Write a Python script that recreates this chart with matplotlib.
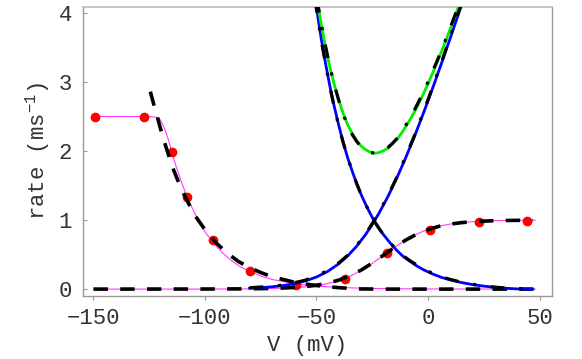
import matplotlib
matplotlib.use("Agg")
import matplotlib.pyplot as plt

plt.rcParams['font.family'] = ['Liberation Mono', 'DejaVu Sans']
plt.rcParams['mathtext.fontset'] = 'custom'
plt.rcParams['mathtext.rm'] = 'Liberation Mono'
plt.rcParams['mathtext.it'] = 'Liberation Mono'
plt.rcParams['axes.unicode_minus'] = True

# ---- data ----
dots_v = [-149.5, -127.5, -115, -108, -96.6, -79.6, -59.2, -37, -18.6, 0.9, 22.9, 44.5]
dots_r = [2.49, 2.49, 1.99, 1.33, 0.71, 0.26, 0.065, 0.14, 0.52, 0.86, 0.97, 0.99]

pinkA_v = [-150, -135, -125, -122, -121, -120, -119, -118, -117, -116, -115, -113, -110, -107,
           -104, -100, -96, -92, -88, -84, -80, -75, -70, -65, -60, -55, -50, -45, -40, -30,
           -20, -10, 0, 48]
pinkA_r = [2.50, 2.50, 2.50, 2.49, 2.48, 2.45, 2.39, 2.31, 2.22, 2.12, 2.00, 1.78, 1.50, 1.26,
           1.06, 0.83, 0.66, 0.52, 0.41, 0.32, 0.26, 0.19, 0.14, 0.11, 0.08, 0.06, 0.044, 0.033,
           0.024, 0.013, 0.007, 0.004, 0.002, 0.0]

pinkB_v = [-150, -100, -80, -70, -60, -55, -50, -45, -40, -35, -30, -25, -20, -15, -10, -5, 0,
           5, 10, 15, 20, 25, 30, 35, 40, 48]
pinkB_r = [0.0, 0.0005, 0.003, 0.008, 0.021, 0.033, 0.052, 0.081, 0.124, 0.186, 0.269, 0.372,
           0.488, 0.606, 0.712, 0.799, 0.865, 0.912, 0.943, 0.964, 0.977, 0.986, 0.991, 0.994,
           0.997, 0.998]

fit1_v = [-124.5, -123, -122, -120, -118, -116, -114, -112, -110, -105, -100, -95, -90, -85,
          -80, -75, -70, -65, -60, -55, -50, -45, -40, -35, -30, -20, 47]
fit1_r = [2.86, 2.68, 2.57, 2.33, 2.11, 1.91, 1.72, 1.56, 1.41, 1.09, 0.86, 0.67, 0.52, 0.40,
          0.31, 0.24, 0.18, 0.14, 0.10, 0.074, 0.052, 0.034, 0.021, 0.010, 0.002, 0.0, 0.0]

fit2_v = [-150, -100, -80, -70, -60, -55, -50, -45, -40, -35, -30, -25, -20, -15, -10, -5, 0,
          5, 10, 15, 20, 25, 30, 35, 40, 47]
fit2_r = [0.0, 0.001, 0.004, 0.009, 0.023, 0.036, 0.056, 0.086, 0.13, 0.193, 0.275, 0.377,
          0.49, 0.605, 0.71, 0.797, 0.862, 0.91, 0.942, 0.963, 0.976, 0.985, 0.99, 0.994,
          0.996, 0.998]

blue1_v = [-52, -50, -48, -46, -44, -42, -40, -38, -36, -34, -32, -30, -28, -26, -24, -22, -20,
           -17, -14, -11, -8, -5, -2, 2, 6, 10, 15, 20, 25, 30, 35, 40, 47]
blue1_r = [4.54, 4.07, 3.65, 3.28, 2.94, 2.64, 2.37, 2.12, 1.90, 1.71, 1.53, 1.37, 1.23, 1.10,
           0.98, 0.88, 0.79, 0.67, 0.56, 0.47, 0.40, 0.335, 0.28, 0.22, 0.17, 0.133, 0.095,
           0.065, 0.043, 0.026, 0.012, 0.0025, 0.0]

blue2_v = [-80, -75, -70, -65, -60, -55, -50, -45, -40, -36, -32, -28, -25, -22, -18, -14, -10,
           -6, -2, 2, 6, 10, 14, 16]
blue2_r = [0.013, 0.021, 0.033, 0.051, 0.078, 0.118, 0.175, 0.256, 0.367, 0.481, 0.621, 0.790,
           0.936, 1.098, 1.339, 1.608, 1.903, 2.218, 2.553, 2.904, 3.266, 3.639, 4.019, 4.211]

green_v = [-52, -50, -48, -46, -44, -42, -40, -38, -36, -34, -32, -30, -28, -26, -24, -22, -20,
           -18, -16, -14, -12, -10, -8, -6, -4, -2, 0, 2, 4, 6, 8, 10, 12, 14, 16]
green_r = [4.69, 4.245, 3.854, 3.518, 3.216, 2.959, 2.737, 2.541, 2.381, 2.258, 2.151, 2.072,
           2.02, 1.985, 1.968, 1.978, 2.005, 2.039, 2.10, 2.168, 2.253, 2.353, 2.458, 2.573,
           2.70, 2.833, 2.976, 3.124, 3.279, 3.438, 3.602, 3.772, 3.944, 4.12, 4.30]

fit3_v = [-52, -50, -48, -46, -44, -42, -40, -38, -36, -34, -32, -30, -28, -26, -24, -22, -20,
          -17, -14, -11, -8, -5, -2, 2, 6, 10, 15, 20, 25, 30, 35, 40, 47]
fit3_r = [4.50, 4.05, 3.63, 3.27, 2.93, 2.63, 2.36, 2.12, 1.90, 1.71, 1.53, 1.37, 1.23, 1.10,
          0.98, 0.88, 0.79, 0.67, 0.57, 0.48, 0.41, 0.35, 0.29, 0.23, 0.18, 0.14, 0.10, 0.07,
          0.045, 0.028, 0.015, 0.007, 0.0]

fit4_v = [-50, -48, -46, -44, -42, -40, -38, -36, -34, -32, -30, -28, -26, -24, -22, -20, -18,
          -16, -14, -12, -10, -8, -6, -4, -2, 0, 2, 4, 6, 8, 10, 12, 14, 16]
fit4_r = [4.25, 3.87, 3.53, 3.22, 2.96, 2.73, 2.53, 2.37, 2.24, 2.14, 2.06, 2.01, 1.98, 1.97,
          1.98, 2.01, 2.05, 2.11, 2.18, 2.27, 2.37, 2.48, 2.60, 2.73, 2.86, 3.00, 3.15, 3.30,
          3.46, 3.62, 3.79, 3.96, 4.14, 4.32]

fit5_v = [-80, -75, -70, -65, -60, -55, -50, -45, -40, -36, -32, -28, -25, -22, -18, -14, -10,
          -6, -2, 2, 6, 10, 14, 16]
fit5_r = [0.02, 0.03, 0.04, 0.06, 0.09, 0.13, 0.19, 0.27, 0.38, 0.49, 0.63, 0.80, 0.95, 1.11,
          1.35, 1.62, 1.92, 2.23, 2.57, 2.92, 3.28, 3.66, 4.04, 4.23]

xticks = [-150, -100, -50, 0, 50]
yticks = [0, 1, 2, 3, 4]

# ---- figure ----
fig = plt.figure(figsize=(5.82, 3.59), dpi=100)
ax = fig.add_axes([83/582, 63/359, 469/582, 289/359])

pink = '#ff3cff'
ax.plot(pinkA_v, pinkA_r, color=pink, lw=0.8, zorder=2)
ax.plot(pinkB_v, pinkB_r, color=pink, lw=0.8, zorder=2)
ax.plot(dots_v, dots_r, 'o', color='#ff0000', ms=7, mec='none', zorder=3)

dash = (0, (4, 3.4))
ax.plot(fit1_v, fit1_r, color='black', lw=2.6, ls=dash, zorder=4)
ax.plot(fit2_v, fit2_r, color='black', lw=2.6, ls=dash, zorder=4)

ax.plot(blue1_v, blue1_r, color='#0000ff', lw=2.0, zorder=5)
ax.plot(blue2_v, blue2_r, color='#0000ff', lw=2.0, zorder=5)
ax.plot(green_v, green_r, color='#00ee00', lw=2.0, zorder=5)

dashdot = (0, (4.3, 4.6, 1.0, 4.6))
for v, r in ((fit3_v, fit3_r), (fit4_v, fit4_r), (fit5_v, fit5_r)):
    ax.plot(v, r, color='black', lw=2.3, ls=dashdot, zorder=6)

ax.set_xlim(-154.7, 55.6)
ax.set_ylim(-0.10, 4.087)
ax.set_xticks(xticks)
ax.set_yticks(yticks)

for s in ('left', 'bottom', 'right'):
    ax.spines[s].set_color('#999999')
    ax.spines[s].set_linewidth(1.0)
ax.spines['top'].set_color('#bbbbbb')
ax.spines['top'].set_linewidth(1.2)

ax.tick_params(axis='y', direction='in', length=3, width=0.8, color='#999999',
               labelsize=16, labelcolor='#333333', pad=8)
ax.tick_params(axis='x', direction='out', length=3, width=0.8, color='#999999',
               labelsize=16, labelcolor='#333333', pad=6)

fig.text(38/582, 1 - 151/359, 'rate (ms$^{-1}$)', rotation=90, ha='center', va='center',
         fontsize=16, color='#333333')
fig.text(307/582, 1 - 346/359, 'V (mV)', ha='center', va='center', fontsize=16,
         color='#333333')

fig.savefig('out.png', dpi=100)
